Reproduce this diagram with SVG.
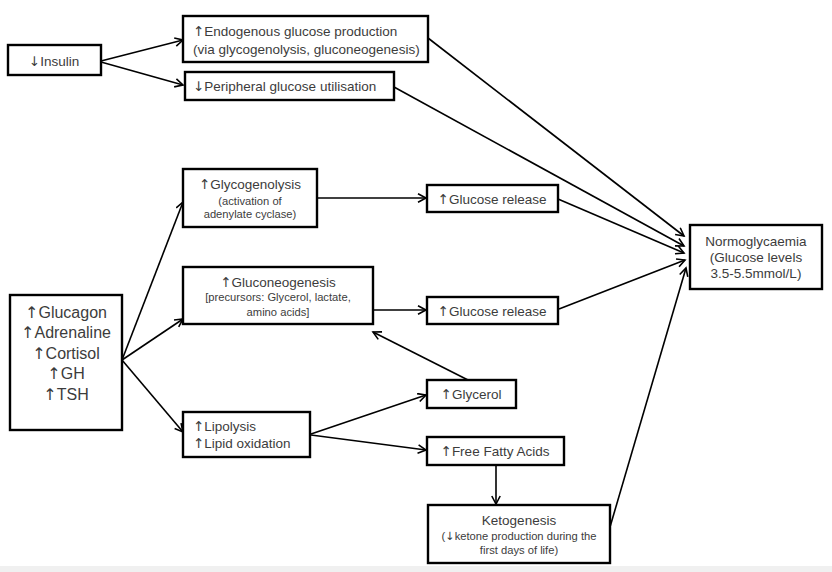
<svg xmlns="http://www.w3.org/2000/svg" width="832" height="572" viewBox="0 0 832 572">
<defs>
<marker id="arr" markerUnits="userSpaceOnUse" markerWidth="12" markerHeight="12" refX="9" refY="5" orient="auto">
<path d="M1,0.8 L9,5 L1,9.2" fill="none" stroke="#000" stroke-width="1.6"/>
</marker>
<style>
.box{fill:#fff;stroke:#000;stroke-width:2.4}
.c{fill:none;stroke:#000;stroke-width:1.6;marker-end:url(#arr)}
text{font-family:"Liberation Sans","DejaVu Sans",sans-serif;fill:#3c3c3c;dominant-baseline:central}
.a{font-family:"DejaVu Sans",sans-serif}
.m{font-size:13.5px}
.s{font-size:11.2px}
.l{font-size:16px}
.mid{text-anchor:middle}
</style>
</defs>
<rect x="0" y="0" width="832" height="572" fill="#fff"/>
<rect x="0" y="566" width="832" height="6" fill="#f0f0f0"/>
<g id="connectors">
<line class="c" x1="101" y1="61" x2="183" y2="40"/>
<line class="c" x1="101" y1="62" x2="183" y2="85"/>
<line class="c" x1="428" y1="38" x2="684" y2="236"/>
<line class="c" x1="394" y1="87" x2="684" y2="246"/>
<line class="c" x1="558" y1="199" x2="684" y2="253"/>
<line class="c" x1="559" y1="309" x2="685" y2="260"/>
<line class="c" x1="610" y1="527" x2="686" y2="268"/>
<line class="c" x1="122" y1="360" x2="183" y2="202"/>
<line class="c" x1="122" y1="360" x2="183" y2="319"/>
<line class="c" x1="122" y1="360" x2="183" y2="432"/>
<line class="c" x1="317" y1="198" x2="426" y2="198"/>
<line class="c" x1="373" y1="310" x2="426" y2="310"/>
<line class="c" x1="468" y1="380" x2="373" y2="332"/>
<line class="c" x1="311" y1="434" x2="426" y2="395"/>
<line class="c" x1="311" y1="435" x2="426" y2="450"/>
<line class="c" x1="496" y1="465" x2="496" y2="504"/>
</g>
<g id="insulin">
<rect class="box" x="8" y="45" width="93" height="30"/>
<text class="m mid" x="54" y="61"><tspan class="a">↓</tspan>Insulin</text>
</g>
<g id="endogenous">
<rect class="box" x="183" y="16" width="245" height="46"/>
<text class="m" x="193" y="31"><tspan class="a">↑</tspan>Endogenous glucose production</text>
<text class="m" x="193" y="49">(via glycogenolysis, gluconeogenesis)</text>
</g>
<g id="peripheral">
<rect class="box" x="185" y="72" width="209" height="28"/>
<text class="m" x="193" y="86"><tspan class="a">↓</tspan>Peripheral glucose utilisation</text>
</g>
<g id="hormones">
<rect class="box" x="10" y="295" width="112" height="135"/>
<text class="l mid" x="66" y="312"><tspan class="a">↑</tspan>Glucagon</text>
<text class="l mid" x="66" y="332"><tspan class="a">↑</tspan>Adrenaline</text>
<text class="l mid" x="66" y="353"><tspan class="a">↑</tspan>Cortisol</text>
<text class="l mid" x="66" y="373"><tspan class="a">↑</tspan>GH</text>
<text class="l mid" x="66" y="394"><tspan class="a">↑</tspan>TSH</text>
</g>
<g id="glycogenolysis">
<rect class="box" x="183" y="169" width="134" height="58"/>
<text class="m mid" x="250" y="184"><tspan class="a">↑</tspan>Glycogenolysis</text>
<text class="s mid" x="250" y="201">(activation of</text>
<text class="s mid" x="250" y="214">adenylate cyclase)</text>
</g>
<g id="gluconeogenesis">
<rect class="box" x="183" y="267" width="190" height="57"/>
<text class="m mid" x="278" y="282"><tspan class="a">↑</tspan>Gluconeogenesis</text>
<text class="s mid" x="278" y="297">[precursors: Glycerol, lactate,</text>
<text class="s mid" x="278" y="312">amino acids]</text>
</g>
<g id="lipolysis">
<rect class="box" x="183" y="412" width="127" height="45"/>
<text class="m" x="193" y="426"><tspan class="a">↑</tspan>Lipolysis</text>
<text class="m" x="193" y="443"><tspan class="a">↑</tspan>Lipid oxidation</text>
</g>
<g id="glucose-release-1">
<rect class="box" x="427" y="185" width="131" height="27"/>
<text class="m mid" x="492" y="199"><tspan class="a">↑</tspan>Glucose release</text>
</g>
<g id="glucose-release-2">
<rect class="box" x="427" y="297" width="131" height="27"/>
<text class="m mid" x="492" y="311"><tspan class="a">↑</tspan>Glucose release</text>
</g>
<g id="glycerol">
<rect class="box" x="427" y="380" width="89" height="28"/>
<text class="m mid" x="471" y="394"><tspan class="a">↑</tspan>Glycerol</text>
</g>
<g id="ffa">
<rect class="box" x="427" y="437" width="137" height="28"/>
<text class="m mid" x="495" y="451"><tspan class="a">↑</tspan>Free Fatty Acids</text>
</g>
<g id="ketogenesis">
<rect class="box" x="428" y="505" width="182" height="58"/>
<text class="m mid" x="519" y="520">Ketogenesis</text>
<text class="s mid" x="519" y="536">(<tspan class="a">↓</tspan>ketone production during the</text>
<text class="s mid" x="519" y="550">first days of life)</text>
</g>
<g id="normoglycaemia">
<rect class="box" x="690" y="225" width="132" height="64"/>
<text class="m mid" x="756" y="241">Normoglycaemia</text>
<text class="m mid" x="756" y="257">(Glucose levels</text>
<text class="m mid" x="756" y="273">3.5-5.5mmol/L)</text>
</g>
</svg>
